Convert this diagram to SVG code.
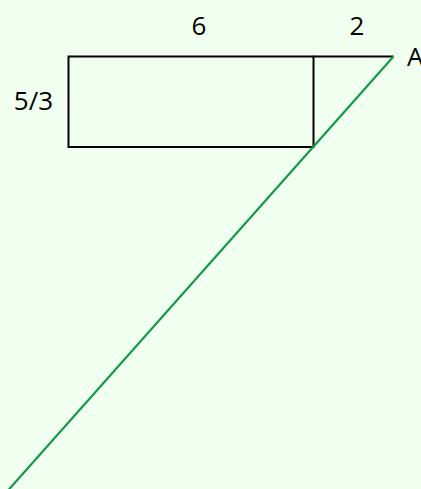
<svg xmlns="http://www.w3.org/2000/svg" width="421" height="489" viewBox="0 0 421 489">
<style>
.t{font-family:"Open Sans","Noto Sans",sans-serif;font-size:26px;fill:#000}
.k{fill:none;stroke:#000;stroke-width:2}
.g{fill:none;stroke:#139a48;stroke-width:2.2}
</style>
<rect width="421" height="489" fill="#f0fff0"/>
<g id="rect"><rect class="k" x="68.5" y="56.5" width="245" height="90.5"/></g>
<g id="connectors">
<line class="k" x1="313.5" y1="56.5" x2="393.5" y2="56.5"/>
<line class="g" x1="393.5" y1="56.5" x2="4" y2="495"/>
</g>
<g id="labels">
<text class="t" x="199" y="35" text-anchor="middle">6</text>
<text class="t" x="357" y="35" text-anchor="middle">2</text>
<text class="t" x="33.5" y="110" text-anchor="middle">5/3</text>
<text class="t" x="407" y="66">A</text>
</g>
</svg>
